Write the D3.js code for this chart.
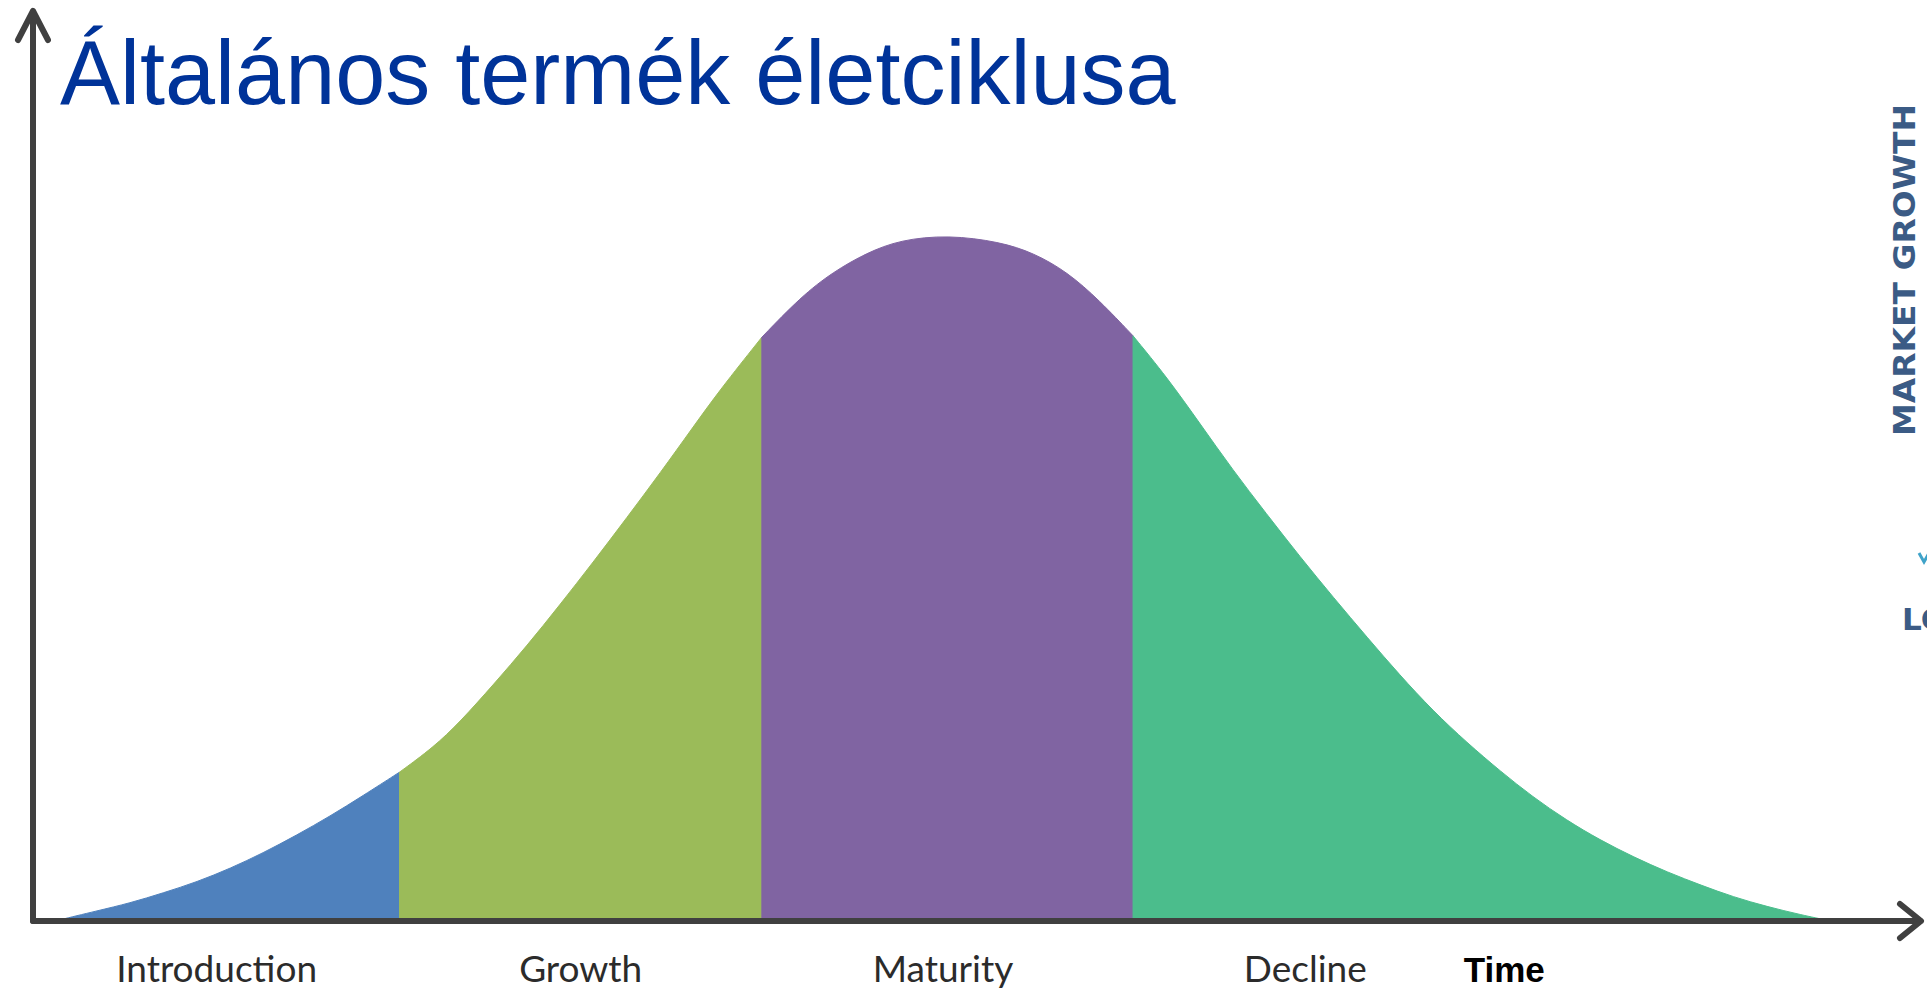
<!DOCTYPE html>
<html>
<head>
<meta charset="utf-8">
<script src="https://cdn.jsdelivr.net/npm/d3@7/dist/d3.min.js"></script>
<style>
  html, body { margin: 0; padding: 0; background: #ffffff; overflow: hidden; }
  svg { display: block; }
</style>
</head>
<body>
<script>
// ---- data ----
const chartTitle = "Általános termék életciklusa";
const phaseNames = ["Introduction", "Growth", "Maturity", "Decline"];
const phaseStart = [0, 19.4, 39.8, 60.7];
const phaseEnd = [19.4, 39.8, 60.7, 100];
const phaseLabelPos = [9.1, 29.6, 50.0, 70.4];
const xAxisTitle = "Time";
const xAxisTitlePos = 81.6;
const sideTitle = "MARKET GROWTH";
const sideLow = "LO";

// product life cycle curve: time (0-100) and sales (0-100)
const timeValues = [0, 2.4, 4.2, 6.1, 8.0, 9.9, 11.7, 13.6, 15.5, 17.3, 19.4, 21.3, 22.8, 24.7, 26.6, 28.4, 30.3, 32.2, 34.1, 35.9, 37.4, 39.8, 42.0, 43.8, 45.7, 47.6, 50.3, 53.2, 55.1, 57.0, 58.8, 60.7, 62.6, 64.5, 66.3, 68.2, 70.1, 72.0, 73.9, 75.7, 77.6, 79.5, 81.4, 83.2, 85.1, 87.0, 88.9, 90.8, 92.7, 94.5, 96.4, 98.3, 100];
const salesValues = [0, 1.5, 2.6, 4.1, 5.7, 7.7, 9.9, 12.5, 15.3, 18.2, 21.7, 25.3, 29.0, 34.5, 40.2, 46.0, 52.3, 58.8, 65.4, 71.9, 77.3, 85.1, 91.0, 94.6, 97.4, 99.3, 100, 99.0, 97.4, 94.6, 90.5, 85.3, 79.3, 72.4, 65.8, 59.4, 53.1, 47.1, 41.3, 35.9, 30.6, 26.0, 21.8, 18.1, 14.7, 11.8, 9.3, 7.1, 5.2, 3.5, 2.1, 0.9, 0];

// ---- styles ----
const phaseColors = ["#4f81bd", "#9bbb59", "#8064a2", "#4bbd8c"];
const axisColor = "#404040";

const W = 1927, H = 992;
const svg = d3.select("body").append("svg").attr("width", W).attr("height", H);

const x = d3.scaleLinear().domain([0, 100]).range([55, 1831]);
const y = d3.scaleLinear().domain([0, 100]).range([921, 235]);

const points = timeValues.map((t, i) => ({ t, v: salesValues[i] }));

const area = d3.area()
  .x(d => x(d.t))
  .y0(y(0))
  .y1(d => y(d.v))
  .curve(d3.curveBasis);

phaseNames.forEach((name, i) => {
  const seg = points.filter(p => p.t >= phaseStart[i] && p.t <= phaseEnd[i]);
  svg.append("path")
    .datum(seg)
    .attr("d", area)
    .attr("fill", phaseColors[i])
    .attr("stroke", phaseColors[i])
    .attr("stroke-width", 1);
});

// axes
const axisX0 = 33, axisY0 = y(0);
const axes = svg.append("g")
  .attr("stroke", axisColor)
  .attr("stroke-width", 6)
  .attr("stroke-linecap", "round")
  .attr("stroke-linejoin", "round")
  .attr("fill", "none");
axes.append("line").attr("x1", axisX0).attr("y1", axisY0).attr("x2", axisX0).attr("y2", 12);
axes.append("path").attr("d", `M${axisX0 - 15},${40} L${axisX0},${11} L${axisX0 + 15},${40}`);
axes.append("line").attr("x1", axisX0).attr("y1", axisY0).attr("x2", 1920).attr("y2", axisY0);
axes.append("path").attr("d", `M${1900},${axisY0 - 17} L${1921},${axisY0} L${1900},${axisY0 + 17}`);

// title
svg.append("text")
  .attr("x", 60).attr("y", 104)
  .attr("font-family", "'Liberation Sans', Arial, sans-serif")
  .attr("font-size", 90)
  .attr("fill", "#003399")
  .text(chartTitle);

// phase labels
svg.append("g").selectAll("text")
  .data(phaseNames)
  .join("text")
  .attr("x", (d, i) => x(phaseLabelPos[i]))
  .attr("y", 982)
  .attr("text-anchor", "middle")
  .attr("font-family", "Lato, 'Open Sans', sans-serif")
  .attr("font-size", 37)
  .attr("fill", "#2b2b2b")
  .text(d => d);

svg.append("text")
  .attr("x", x(xAxisTitlePos)).attr("y", 982)
  .attr("text-anchor", "middle")
  .attr("font-family", "'Liberation Sans', Arial, sans-serif")
  .attr("font-weight", "bold")
  .attr("font-size", 35)
  .attr("fill", "#000")
  .text(xAxisTitle);

// right side fragments
svg.append("text")
  .attr("transform", "translate(1915,270) rotate(-90)")
  .attr("text-anchor", "middle")
  .attr("font-family", "'DejaVu Sans', 'Open Sans', sans-serif")
  .attr("font-weight", "bold")
  .attr("font-size", 30)
  .attr("textLength", 332)
  .attr("lengthAdjust", "spacingAndGlyphs")
  .attr("fill", "#3b5b85")
  .text(sideTitle);

svg.append("path")
  .attr("d", "M1919,553 L1924,562 L1929,553")
  .attr("fill", "none")
  .attr("stroke", "#3fa3c9")
  .attr("stroke-width", 3);

svg.append("text")
  .attr("x", 1902).attr("y", 630)
  .attr("font-family", "'DejaVu Sans', 'Open Sans', sans-serif")
  .attr("font-weight", "bold")
  .attr("font-size", 31)
  .attr("fill", "#3b5b85")
  .text(sideLow);
</script>
</body>
</html>
